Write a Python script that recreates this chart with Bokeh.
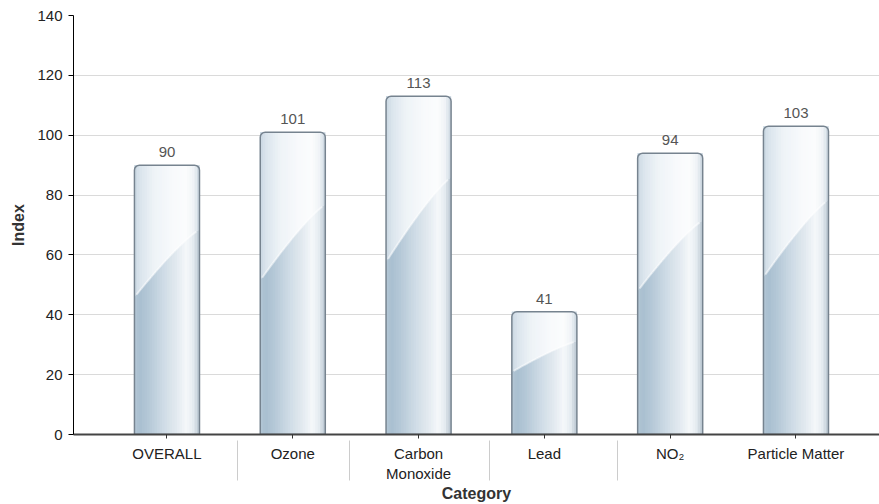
import numpy as np
from bokeh.plotting import figure
from bokeh.models import Range1d, FixedTicker, ColumnDataSource
from bokeh.core.properties import value
from bokeh.embed import file_html
from bokeh.resources import INLINE

# ---- data ----
categories = ["OVERALL", "Ozone", "Carbon\nMonoxide", "Lead", "NO\u2082", "Particle Matter"]
values = [90, 101, 113, 41, 94, 103]
y_ticks = [0, 20, 40, 60, 80, 100, 120, 140]
separator_positions = [0.56, 1.45, 2.56, 3.58]

FONT = "Liberation Sans"
BAR_W = 0.517
N_STRIPS = 26

lower_stops = [(0.0, "#b4c7d5"), (0.08, "#a9bfd0"), (0.2, "#b3c7d6"), (0.45, "#cfdce6"),
               (0.65, "#e3eaf0"), (0.8, "#f5f8fa"), (0.9, "#e6ecf1"), (1.0, "#b8c6d1")]
upper_stops = [(0.0, "#c9d7e2"), (0.08, "#dae4ec"), (0.3, "#eef3f7"), (0.6, "#f8fafc"),
               (0.8, "#fbfcfd"), (0.92, "#eef2f6"), (1.0, "#c8d4de")]


def interp_color(stops, t):
    for (t0, c0), (t1, c1) in zip(stops[:-1], stops[1:]):
        if t0 <= t <= t1:
            f = (t - t0) / (t1 - t0) if t1 > t0 else 0
            a = [int(c0[i:i + 2], 16) for i in (1, 3, 5)]
            b = [int(c1[i:i + 2], 16) for i in (1, 3, 5)]
            return "#%02x%02x%02x" % tuple(round(a[k] + (b[k] - a[k]) * f) for k in range(3))
    return stops[-1][1]


def curve(t):
    return 0.51 + 0.25 * (1 - (1 - t) ** 1.2)


p = figure(width=879, height=504, output_backend="svg", toolbar_location=None,
           x_range=Range1d(-0.743, 5.664), y_range=Range1d(0, 140),
           min_border_left=73, min_border_right=0, min_border_top=15, min_border_bottom=70)
p.outline_line_color = None
p.background_fill_color = "white"
p.border_fill_color = "white"

xs_idx = np.arange(len(values))
sx, sw, stop, scol = [], [], [], []
ux, uy, ucol = [], [], []
hl_x, hl_y = [], []
for i, v in zip(xs_idx, values):
    left = i - BAR_W / 2
    dw = BAR_W / N_STRIPS
    for k in range(N_STRIPS):
        t0 = k / N_STRIPS
        t1 = (k + 1) / N_STRIPS
        tm = (t0 + t1) / 2
        ext = dw * 0.6 if k < N_STRIPS - 1 else 0.0
        x0 = left + k * dw
        x1 = left + (k + 1) * dw + ext
        sx.append((x0 + x1) / 2)
        sw.append(x1 - x0)
        stop.append(v)
        scol.append(interp_color(lower_stops, tm))
        te = min((x1 - left) / BAR_W, 1.0)
        ux.append([x0, x1, x1, x0])
        uy.append([v * curve(t0), v * curve(te), v, v])
        ucol.append(interp_color(upper_stops, tm))
    ts = np.linspace(0.03, 0.95, 30)
    hl_x.append(list(left + ts * BAR_W))
    hl_y.append(list(v * curve(ts)))

p.vbar(x=sx, width=sw, top=stop, bottom=0, fill_color=scol, line_color=None)
p.patches(xs=ux, ys=uy, fill_color=ucol, line_color=None)
p.multi_line(xs=hl_x, ys=hl_y, line_color="white", line_alpha=0.5, line_width=2)
p.vbar(x=list(xs_idx), width=BAR_W, top=values, bottom=0, fill_color=None,
       line_color="#76838f", line_width=1.5, border_radius=[5, 5, 0, 0])

# value labels
src = ColumnDataSource(dict(x=list(xs_idx), y=values, t=[str(v) for v in values]))
p.text(x="x", y="y", text="t", source=src, text_align="center", text_baseline="bottom",
       y_offset=-8, text_font=value(FONT), text_font_size="15px", text_color="#555555")

# axes
p.xgrid.grid_line_color = None
p.ygrid.grid_line_color = "#dadada"
p.ygrid.grid_line_width = 1

p.yaxis.ticker = FixedTicker(ticks=y_ticks)
p.yaxis.axis_label = "Index"
p.yaxis.axis_line_color = "black"
p.yaxis.major_tick_line_color = "black"
p.yaxis.major_tick_out = 5
p.yaxis.major_tick_in = 0
p.yaxis.minor_tick_line_color = None
p.yaxis.major_label_standoff = 6
p.yaxis.axis_label_standoff = 7

p.xaxis.ticker = FixedTicker(ticks=list(xs_idx), minor_ticks=separator_positions)
p.xaxis.major_label_overrides = {int(i): c for i, c in zip(xs_idx, categories)}
p.xaxis.axis_label = "Category"
p.xaxis.axis_line_color = "#444444"
p.xaxis.axis_line_width = 2
p.xaxis.major_tick_line_color = "#333333"
p.xaxis.major_tick_out = 4
p.xaxis.major_tick_in = 0
p.xaxis.minor_tick_line_color = "#cccccc"
p.xaxis.minor_tick_in = -6
p.xaxis.minor_tick_out = 46
p.xaxis.major_label_standoff = 6 - 42
p.xaxis.axis_label_standoff = 0

for ax in (p.xaxis[0], p.yaxis[0]):
    ax.major_label_text_font = FONT
    ax.major_label_text_font_size = "15px"
    ax.major_label_text_color = "#222222"
    ax.axis_label_text_font = FONT
    ax.axis_label_text_font_size = "16px"
    ax.axis_label_text_font_style = "bold"
    ax.axis_label_text_color = "#333333"

open("out.html", "w").write(file_html(p, INLINE))
